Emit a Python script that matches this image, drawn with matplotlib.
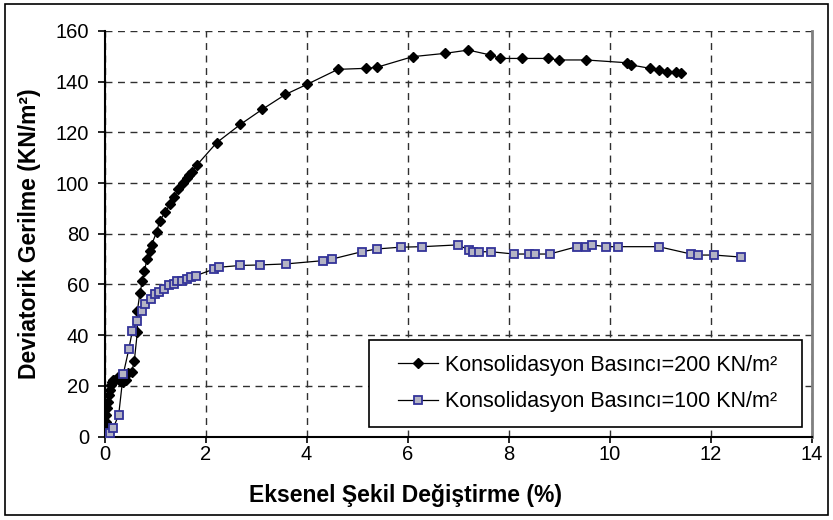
import matplotlib.pyplot as plt
from matplotlib.patches import Rectangle

plt.rcParams['font.family'] = ['Liberation Sans', 'DejaVu Sans']

# Konsolidasyon basinci = 200 kN/m2
strain_200 = [0.01, 0.02, 0.03, 0.04, 0.06, 0.08, 0.10, 0.12, 0.14, 0.17,
              0.21, 0.26, 0.31, 0.37, 0.42, 0.47, 0.54, 0.59, 0.65, 0.65,
              0.70, 0.75, 0.79, 0.84, 0.90, 0.93, 1.03, 1.09, 1.20, 1.30,
              1.38, 1.46, 1.55, 1.64, 1.68, 1.73, 1.83, 2.22, 2.69, 3.12,
              3.58, 4.01, 4.62, 5.18, 5.39, 6.10, 6.74, 7.20, 7.63, 7.83,
              8.26, 8.77, 9.00, 9.53, 10.34, 10.43, 10.80, 10.97, 11.13,
              11.32, 11.41]
stress_200 = [3.0, 5.9, 8.6, 11.2, 13.8, 16.4, 18.4, 20.4, 21.5, 22.3,
              22.5, 23.6, 22.0, 21.5, 22.5, 25.0, 25.6, 30.0, 41.4, 49.7,
              56.5, 61.5, 65.4, 69.9, 73.3, 75.6, 80.6, 85.0, 88.5, 91.7,
              94.6, 97.5, 99.9, 102.1, 103.2, 104.5, 107.1, 115.9, 123.1,
              129.0, 134.9, 138.9, 144.8, 145.2, 145.6, 149.8, 151.1, 152.4,
              150.5, 149.1, 149.1, 149.1, 148.5, 148.5, 147.4, 146.5, 145.2,
              144.5, 143.9, 143.9, 143.2]

# Konsolidasyon basinci = 100 kN/m2
strain_100 = [0.01, 0.11, 0.17, 0.28, 0.37, 0.48, 0.55, 0.65, 0.75, 0.81,
              0.91, 1.00, 1.08, 1.18, 1.28, 1.37, 1.44, 1.54, 1.64, 1.71,
              1.81, 2.17, 2.27, 2.69, 3.07, 3.59, 4.33, 4.50, 5.09, 5.39,
              5.86, 6.29, 6.99, 7.22, 7.29, 7.42, 7.65, 8.11, 8.41, 8.53,
              8.81, 9.35, 9.53, 9.65, 9.92, 10.17, 10.97, 11.61, 11.74,
              12.07, 12.60]
stress_100 = [0.3, 1.4, 3.3, 8.6, 24.6, 34.4, 41.7, 45.7, 49.7, 52.3,
              54.3, 56.2, 57.0, 58.2, 59.6, 60.2, 61.5, 61.5, 62.3, 63.0,
              63.5, 66.1, 66.8, 67.5, 67.7, 68.1, 69.4, 70.0, 72.9, 74.0,
              74.7, 74.9, 75.6, 73.6, 72.9, 72.9, 72.9, 72.0, 72.0, 72.0,
              72.0, 74.9, 74.9, 75.6, 74.9, 74.9, 74.9, 72.0, 71.6, 71.6,
              70.8]

x_ticks = [0, 2, 4, 6, 8, 10, 12, 14]
y_ticks = [0, 20, 40, 60, 80, 100, 120, 140, 160]

fig = plt.figure(figsize=(8.33, 5.20), dpi=100)
ax = fig.add_axes([0.1255, 0.1602, 0.849, 0.7806])

ax.plot(strain_200, stress_200, color='black', lw=0.9, marker='D',
        markersize=5.5, markerfacecolor='black', markeredgecolor='black',
        label='Konsolidasyon Basıncı=200 KN/m²', zorder=3)
ax.plot(strain_100, stress_100, color='black', lw=0.9, marker='s',
        markersize=5.5, markerfacecolor='#b4b4c4', markeredgecolor='#333399',
        markeredgewidth=1.3, label='Konsolidasyon Basıncı=100 KN/m²',
        zorder=4)

ax.set_xlim(0, 14)
ax.set_ylim(0, 160)
ax.set_xticks(x_ticks)
ax.set_yticks(y_ticks)
ax.tick_params(axis='both', labelsize=14.5, direction='out', width=1.2,
               color='black')
ax.tick_params(axis='y', length=5, pad=6)
ax.tick_params(axis='x', length=4, pad=2)

ax.grid(True, color='#303030', linestyle=(0, (5, 4)), linewidth=1)
ax.set_axisbelow(True)

ax.spines['top'].set_visible(False)
ax.spines['right'].set_color('#808080')
ax.spines['right'].set_linewidth(2)
ax.spines['left'].set_linewidth(1.5)
ax.spines['bottom'].set_linewidth(1.5)

ax.set_xlabel('Eksenel Şekil Değiştirme (%)', fontsize=16.5,
              fontweight='bold')
ax.set_ylabel('Deviatorik Gerilme (KN/m²)', fontsize=16.5,
              fontweight='bold')
ax.xaxis.set_label_coords(0.425, -0.117)
ax.yaxis.set_label_coords(-0.09, 0.5)

# legend entries without frame, box drawn separately
leg = ax.legend(loc='center left', bbox_to_anchor=(0.415, 0.131),
                fontsize=15.5, frameon=False, handlelength=1.85,
                handletextpad=0.33, labelspacing=0.7, borderpad=0,
                borderaxespad=0)
ax.add_patch(Rectangle((0.374, 0.024), 0.612, 0.214, transform=ax.transAxes,
                       facecolor='white', edgecolor='black', linewidth=1.2,
                       zorder=5))
leg.set_zorder(6)

# chart area border
fig.patches.append(Rectangle((0.006, 0.01), 0.988, 0.982,
                             transform=fig.transFigure, fill=False,
                             edgecolor='black', linewidth=1.2))

fig.savefig('out.png', dpi=100)
